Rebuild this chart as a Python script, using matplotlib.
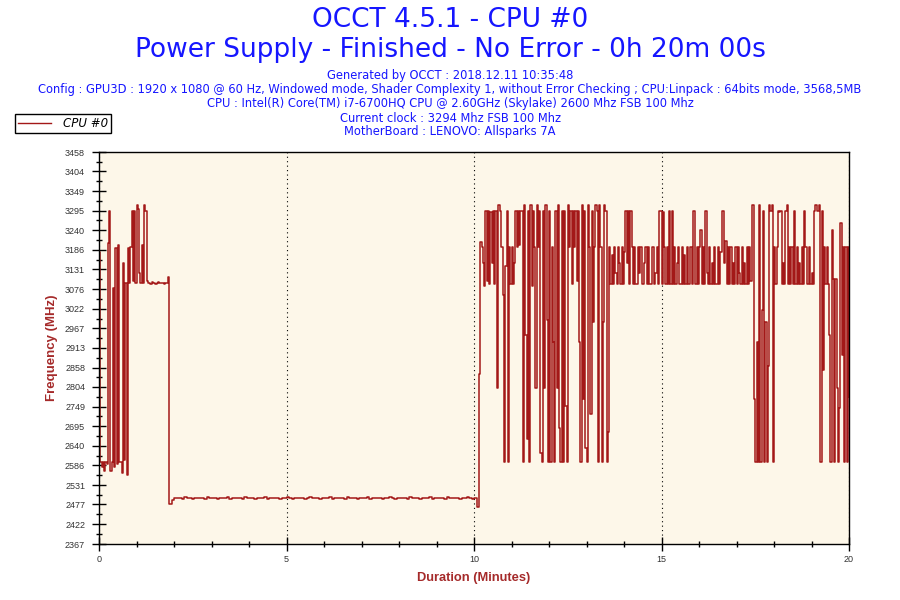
import numpy as np
import matplotlib.pyplot as plt
from matplotlib.lines import Line2D
from matplotlib.ticker import FixedLocator, MultipleLocator

# Textos do cabecalho
titulo = 'OCCT 4.5.1 - CPU #0'
subtitulo = 'Power Supply - Finished - No Error - 0h 20m 00s'
info_linhas = [
    'Generated by OCCT : 2018.12.11 10:35:48',
    'Config : GPU3D : 1920 x 1080 @ 60 Hz, Windowed mode, Shader Complexity 1, without Error Checking ; CPU:Linpack : 64bits mode, 3568,5MB',
    'CPU : Intel(R) Core(TM) i7-6700HQ CPU @ 2.60GHz (Skylake) 2600 Mhz FSB 100 Mhz',
    'Current clock : 3294 Mhz FSB 100 Mhz',
    'MotherBoard : LENOVO: Allsparks 7A',
]
serie_nome = 'CPU #0'

# Rotulos do eixo Y
y_ticks = [2367, 2422, 2477, 2531, 2586, 2640, 2695, 2749, 2804, 2858, 2913,
           2967, 3022, 3076, 3131, 3186, 3240, 3295, 3349, 3404, 3458]
x_ticks = [0, 5, 10, 15, 20]

# Fase 1: inicio do teste, leituras a cada 2 s (0 - 110 s)
inicio_t0, inicio_passo = 0, 2
freq_inicio = [3180, 2594, 2580, 2594, 2570, 2594, 2590, 3205, 3294, 2570,
               2594, 3080, 2580, 3190, 2590, 3200, 2594, 2594, 2565, 3150,
               2600, 3094, 2560, 3190, 3094, 3194, 3294, 3100, 3294, 3094,
               3310, 3300, 3120, 3094, 3200, 3094, 3310, 3294, 3100, 3094,
               3094, 3092, 3096, 3094, 3094, 3092, 3094, 3096, 3094, 3094,
               3094, 3094, 3092, 3094, 3094, 3110]

# Fase 2: patamar baixo (~2494 MHz), leituras a cada 4 s (112 - 604 s)
patamar_t0, patamar_passo = 112, 4
freq_patamar = [2478,
                2490, 2494, 2496, 2494, 2493, 2497, 2494, 2494, 2492, 2496, 2494, 2495,
                2494, 2493, 2497, 2494, 2494, 2496, 2492, 2494, 2495, 2494, 2497, 2493,
                2494, 2496, 2494, 2494, 2492, 2497, 2494, 2495, 2494, 2493, 2496, 2494,
                2494, 2497, 2492, 2494, 2495, 2494, 2496, 2493, 2494, 2494, 2497, 2494,
                2492, 2494, 2496, 2494, 2495, 2493, 2494, 2497, 2494, 2494, 2496, 2492,
                2494, 2495, 2494, 2497, 2493, 2494, 2496, 2494, 2494, 2492, 2497, 2494,
                2495, 2494, 2493, 2496, 2494, 2494, 2497, 2492, 2494, 2495, 2494, 2496,
                2493, 2494, 2494, 2497, 2494, 2492, 2496, 2494, 2495, 2494, 2493, 2497,
                2494, 2494, 2496, 2492, 2494, 2495, 2494, 2497, 2493, 2494, 2496, 2494,
                2494, 2492, 2497, 2494, 2495, 2494, 2496, 2493, 2494, 2494, 2497, 2494,
                2492, 2494, 2470]

# Fase 3: carga variavel ate o fim, leituras a cada 2 s (608 - 1200 s)
final_t0, final_passo = 608, 2
freq_final = [2840, 3208, 3194, 3150, 3085, 3294, 3100, 3294, 3092, 3290,
              3150, 3294, 3092, 3294, 2800, 3310, 3310, 3294, 3194, 3060,
              2594, 3140, 3294, 2594, 3194, 3092, 3194, 3092, 3150, 3294,
              3194, 3294, 3200, 3294, 3294, 2594, 3310, 2950, 2660, 3294,
              2594, 3310, 3085, 3294, 3194, 2800, 3310, 3194, 3294, 2620,
              2594, 3294, 2800, 3310, 2990, 2594, 3294, 2594, 3194, 2930,
              2594, 3294, 2800, 3310, 2690, 2594, 3294, 2594, 3294, 2750,
              2594, 3310, 3194, 3294, 3092, 3294, 3194, 3294, 3100, 3294,
              2930, 2594, 3310, 2770, 3294, 2634, 2594, 3310, 3194, 2730,
              3294, 2985, 3194, 3310, 3294, 2594, 3310, 3194, 2594, 2985,
              3310, 3294, 2594, 2680, 3194, 3092, 3170, 3092, 3194, 3120,
              3092, 3194, 3150, 3092, 3194, 3092, 3180, 3294, 3150, 3294,
              3092, 3294, 3194, 3092, 3194, 3092, 3092, 3194, 3120, 3194,
              3092, 3092, 3150, 3194, 3092, 3194, 3092, 3092, 3194, 3194,
              3092, 3120, 3194, 3092, 3294, 3294, 3092, 3290, 3194, 3092,
              3194, 3092, 3294, 3092, 3294, 3092, 3194, 3092, 3150, 3194,
              3092, 3092, 3194, 3092, 3170, 3092, 3194, 3092, 3092, 3194,
              3092, 3294, 3294, 3092, 3194, 3092, 3194, 3240, 3092, 3194,
              3092, 3294, 3120, 3092, 3194, 3092, 3150, 3092, 3194, 3092,
              3092, 3194, 3092, 3180, 3294, 3294, 3150, 3210, 3092, 3194,
              3092, 3194, 3092, 3150, 3092, 3194, 3092, 3194, 3120, 3092,
              3194, 3092, 3150, 3092, 3194, 3092, 3194, 3100, 3310, 3310,
              2770, 2594, 2930, 2594, 3310, 2594, 3018, 3294, 2594, 2985,
              2594, 2862, 3310, 3294, 3310, 2594, 3194, 3092, 3194, 3294,
              3290, 3294, 3092, 3150, 3092, 3294, 3310, 3092, 3194, 3092,
              3194, 3092, 3294, 3092, 3194, 3092, 3150, 3092, 3194, 3092,
              3294, 3194, 3092, 3092, 3194, 3092, 3120, 3092, 3294, 3310,
              3294, 3294, 3310, 2594, 3294, 2850, 3194, 3092, 3194, 3092,
              2950, 2594, 3240, 3105, 2594, 3105, 2800, 2594, 2745, 3260,
              2893, 3194, 2594, 3194, 2594, 3194, 2776]

segundos = np.concatenate([
    inicio_t0 + np.arange(len(freq_inicio)) * inicio_passo,
    patamar_t0 + np.arange(len(freq_patamar)) * patamar_passo,
    final_t0 + np.arange(len(freq_final)) * final_passo,
])
freq = np.array(freq_inicio + freq_patamar + freq_final)
minutos = segundos / 60.0

cor_linha = '#a31818'
cor_azul = '#1616ff'
cor_eixo = '#a52a2a'

fig = plt.figure(figsize=(9, 6), dpi=100)
ax = fig.add_axes([99 / 900, 56 / 600, 750 / 900, 392 / 600])
ax.set_facecolor('#fdf7e9')

ax.plot(minutos, freq, color=cor_linha, lw=1.1, drawstyle='steps-post')

ax.set_xlim(0, 20)
ax.set_ylim(y_ticks[0], y_ticks[-1])
ax.xaxis.set_major_locator(FixedLocator(x_ticks))
ax.xaxis.set_minor_locator(MultipleLocator(1))
ax.yaxis.set_major_locator(FixedLocator(y_ticks))
meios = [(a + b) / 2 for a, b in zip(y_ticks[:-1], y_ticks[1:])]
ax.yaxis.set_minor_locator(FixedLocator(meios))
ax.set_yticklabels([str(v) for v in y_ticks])

ax.tick_params(axis='both', which='major', direction='inout', length=10, width=1,
               labelsize=6.5, labelcolor='#333333')
ax.tick_params(axis='both', which='minor', direction='inout', length=5, width=1)
ax.tick_params(axis='y', which='major', pad=5)
ax.tick_params(axis='x', which='major', pad=3)
for lab in ax.get_xticklabels() + ax.get_yticklabels():
    lab.set_family('Liberation Sans')

for sp in ax.spines.values():
    sp.set_linewidth(1.0)
    sp.set_color('black')

ax.grid(axis='x', which='major', color='black', linestyle=(0, (1, 3)), lw=0.8)

ax.set_ylabel('Frequency (MHz)', color=cor_eixo, fontsize=9.5, fontweight='bold',
              family='Liberation Sans', labelpad=5)
ax.set_xlabel('Duration (Minutes)', color=cor_eixo, fontsize=9.3, fontweight='bold',
              family='Liberation Sans', labelpad=6)

# Cabecalho
fig.text(0.5, 1 - 20 / 600, titulo, ha='center', va='center', color=cor_azul, fontsize=19)
fig.text(0.5, 1 - 50 / 600, subtitulo, ha='center', va='center', color=cor_azul, fontsize=19)
for k, linha in enumerate(info_linhas):
    y = [75, 90, 104, 118, 132][k]
    fig.text(0.5, 1 - y / 600, linha, ha='center', va='center', color=cor_azul, fontsize=8.3)

# Legenda
h = Line2D([], [], color=cor_linha, lw=1.0)
leg = fig.legend([h], [serie_nome], loc='upper left', bbox_to_anchor=(15 / 900, 1 - 114 / 600),
                 borderaxespad=0, fancybox=False, framealpha=1, edgecolor='black',
                 prop={'style': 'italic', 'size': 8.5}, handlelength=2.8, borderpad=0.25,
                 handletextpad=1.0)
leg.get_frame().set_linewidth(1.0)

fig.savefig('out.png', dpi=100)
